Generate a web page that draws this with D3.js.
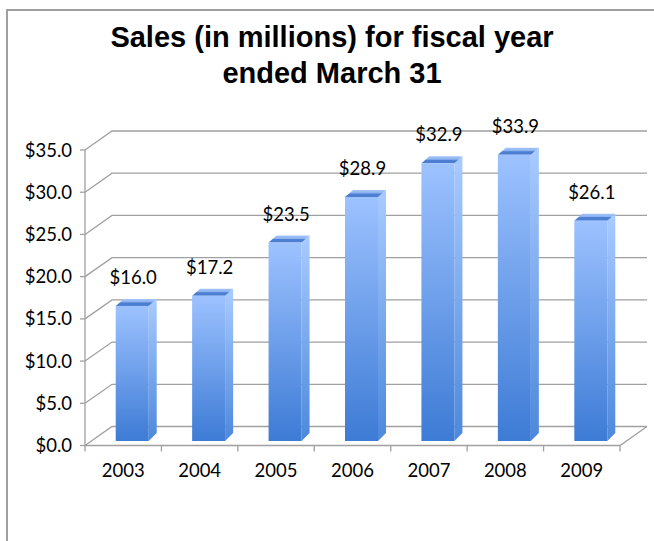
<!DOCTYPE html>
<html>
<head>
<meta charset="utf-8">
<script src="https://cdn.jsdelivr.net/npm/d3@7"></script>
<style>
  body { margin: 0; background: #fff; }
  svg { display: block; }
</style>
</head>
<body>
<svg id="chart"></svg>
<script>
const years = ['2003', '2004', '2005', '2006', '2007', '2008', '2009'];
const sales = [16.0, 17.2, 23.5, 28.9, 32.9, 33.9, 26.1];
const yTicks = [0, 5, 10, 15, 20, 25, 30, 35];
const titleLines = ['Sales (in millions) for fiscal year', 'ended March 31'];

const W = 654, H = 541;
const DX = 27, DY = -19;          // depth of the back wall
const BOX = 9, BOY = -4.5;        // bar front face offset from the front plane
const BW = 33, SX = 8, SY = -7;   // bar width and bar depth

const svg = d3.select('#chart')
  .attr('width', W)
  .attr('height', H)
  .attr('viewBox', [0, 0, W, H]);

const x = d3.scaleBand().domain(years).range([85, 620]);
const y = d3.scaleLinear().domain([0, 35]).range([445.5, 150]);
const bw = x.bandwidth();

const defs = svg.append('defs');
const grad = (id, stops) => {
  const g = defs.append('linearGradient').attr('id', id)
    .attr('x1', 0).attr('y1', 0).attr('x2', 0).attr('y2', 1);
  stops.forEach(s => g.append('stop').attr('offset', s[0]).attr('stop-color', s[1]));
};
grad('front', [[0, '#9dc2ff'], [1, '#3d7bd5']]);
grad('side', [[0, '#a9cbff'], [1, '#4c88dc']]);
grad('top', [[0, '#a3c5fb'], [0.45, '#8ab0ef'], [0.55, '#4d80d3'], [1, '#4a7dd0']]);

// outer frame
svg.append('path')
  .attr('d', `M7,${H} V10 H${W}`)
  .attr('fill', 'none')
  .attr('stroke', '#a0a0a0')
  .attr('stroke-width', 2);

// title
svg.append('text')
  .attr('x', 332)
  .attr('font-family', '"Liberation Sans", Arial, sans-serif')
  .attr('font-weight', 'bold')
  .attr('font-size', 29)
  .attr('text-anchor', 'middle')
  .selectAll('tspan')
  .data(titleLines)
  .enter()
  .append('tspan')
    .attr('x', 332)
    .attr('y', (d, i) => 47 + i * 36)
    .text(d => d);

// back wall gridlines with their diagonal on the side wall
const grid = svg.append('g')
  .attr('fill', 'none')
  .attr('stroke', '#a0a0a0')
  .attr('stroke-width', 1.3);

grid.selectAll('path')
  .data(yTicks)
  .enter()
  .append('path')
    .attr('d', t => `M85,${y(t)} L${85 + DX},${y(t) + DY} H${620 + DX}`);

// floor
grid.append('path')
  .attr('d', `M85,${y(0)} H620 L${620 + DX},${y(0) + DY}`);

// y axis line + ticks
grid.append('path')
  .attr('d', `M85,${y(35)} V${y(0) + 6}`);
grid.selectAll('.ytick')
  .data(yTicks)
  .enter()
  .append('path')
    .attr('class', 'ytick')
    .attr('d', t => `M80,${y(t)} H85`);

// x ticks at band boundaries
grid.selectAll('.xtick')
  .data(years)
  .enter()
  .append('path')
    .attr('class', 'xtick')
    .attr('d', d => {
      const xx = x(d) + bw;
      return `M${xx},${y(0)} V${y(0) + 6}`;
    });

// y labels
svg.append('g')
  .attr('font-family', 'Lato, sans-serif')
  .attr('font-size', 18.5)
  .attr('text-anchor', 'end')
  .selectAll('text')
  .data(yTicks)
  .enter()
  .append('text')
    .attr('x', 72)
    .attr('y', t => y(t) + 6.5)
    .text(t => '$' + t.toFixed(1));

// x labels
svg.append('g')
  .attr('font-family', 'Lato, sans-serif')
  .attr('font-size', 18.5)
  .attr('text-anchor', 'middle')
  .selectAll('text')
  .data(years)
  .enter()
  .append('text')
    .attr('x', d => x(d) + bw / 2)
    .attr('y', 477)
    .text(d => d);

// bars
const bars = svg.append('g')
  .selectAll('g')
  .data(years.map((yr, i) => ({ yr, v: sales[i] })))
  .enter()
  .append('g');

const fx = d => x(d.yr) + bw / 2 + BOX - BW / 2;
const y0 = y(0) + BOY;
const yt = d => y(d.v) + BOY;

bars.append('path')
  .attr('fill', 'url(#side)')
  .attr('d', d => `M${fx(d) + BW},${yt(d)} L${fx(d) + BW + SX},${yt(d) + SY} V${y0 + SY - 1} L${fx(d) + BW},${y0} Z`);

bars.append('path')
  .attr('fill', 'url(#top)')
  .attr('d', d => `M${fx(d)},${yt(d)} L${fx(d) + SX},${yt(d) + SY} H${fx(d) + BW + SX} L${fx(d) + BW},${yt(d)} Z`);

bars.append('rect')
  .attr('fill', 'url(#front)')
  .attr('x', fx)
  .attr('y', yt)
  .attr('width', BW)
  .attr('height', d => y0 - yt(d));

// value labels
bars.append('text')
  .attr('font-family', 'Lato, sans-serif')
  .attr('font-size', 18.5)
  .attr('text-anchor', 'middle')
  .attr('x', d => fx(d) + BW / 2 + 1)
  .attr('y', d => yt(d) - 22)
  .text(d => '$' + d.v.toFixed(1));
</script>
</body>
</html>
